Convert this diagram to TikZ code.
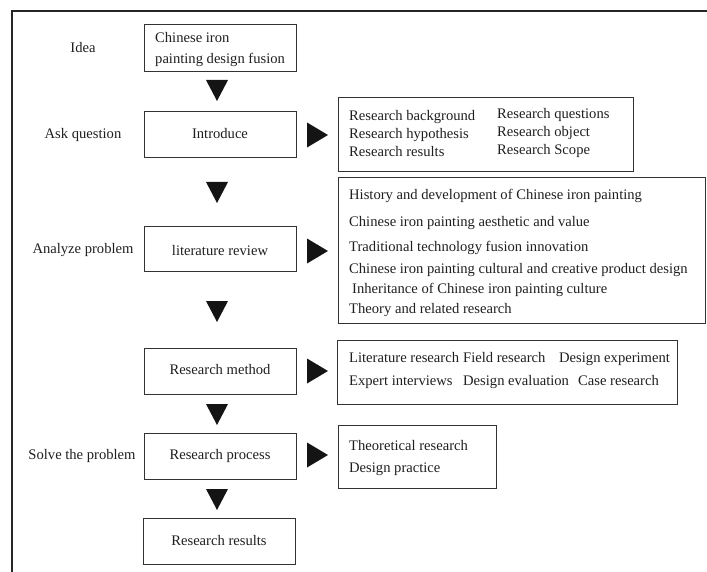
\documentclass[tikz,border=0pt]{standalone}
\usepackage{fontspec}
\setmainfont{Liberation Serif}
\newcommand\dtri[2]{\fill[black!92] (#1-11,#2) -- (#1+11,#2) -- (#1,#2+21) -- cycle;}
\newcommand\rtri[2]{\fill[black!92] (#1,#2-12.5) -- (#1,#2+12.5) -- (#1+21,#2) -- cycle;}
\begin{document}
\begin{tikzpicture}[x=1pt,y=-1pt,
  font=\fontsize{14.6}{18}\selectfont,
  box/.style={draw=black!80, line width=0.9pt},
  txt/.style={anchor=base west, inner sep=0pt, text=black!88},
  ctxt/.style={anchor=base, inner sep=0pt, text=black!88}]
\useasboundingbox (0,0) rectangle (707,572);
\draw[line width=1.3pt, black!85] (12,572) -- (12,11) -- (707,11);

% main column boxes
\draw[box] (144,24) rectangle (296,71);
\draw[box] (144,111) rectangle (296,157);
\draw[box] (144,226) rectangle (296,271);
\draw[box] (144,348) rectangle (296,394);
\draw[box] (144,433) rectangle (296,479);
\draw[box] (143,518) rectangle (295,564);

% list boxes
\draw[box] (338,97) rectangle (633,171);
\draw[box] (338,177) rectangle (705,323);
\draw[box] (337,340) rectangle (677,404);
\draw[box] (338,425) rectangle (496,488);

% left labels
\node[ctxt] (lidea) at (83,53) {Idea};
\node[ctxt] (lask) at (83,139) {Ask question};
\node[ctxt] (lana) at (83,254) {Analyze problem};
\node[ctxt] (lsolve) at (82,459) {Solve the problem};

% main box texts
\node[txt] (idea1) at (155,43) {Chinese iron};
\node[txt] (idea2) at (155,64) {painting design fusion};
\node[ctxt] (intro) at (220,139) {Introduce};
\node[ctxt] (lit) at (220,255) {literature review};
\node[ctxt] (meth) at (220,374) {Research method};
\node[ctxt] (proc) at (220,459) {Research process};
\node[ctxt] (res) at (219,545) {Research results};

% background list
\node[txt] (b1) at (349,121) {Research background};
\node[txt] (b2) at (349,139) {Research hypothesis};
\node[txt] (b3) at (349,157) {Research results};
\node[txt] (b4) at (497,119) {Research questions};
\node[txt] (b5) at (497,137) {Research object};
\node[txt] (b6) at (497,155) {Research Scope};

% literature list
\node[txt] (l1) at (349,200) {History and development of Chinese iron painting};
\node[txt] (l2) at (349,227) {Chinese iron painting aesthetic and value};
\node[txt] (l3) at (349,252) {Traditional technology fusion innovation};
\node[txt] (l4) at (349,273) {Chinese iron painting cultural and creative product design};
\node[txt] (l5) at (352,294) {Inheritance of Chinese iron painting culture};
\node[txt] (l6) at (349,313) {Theory and related research};

% method list
\node[txt] (m1) at (349,362) {Literature research};
\node[txt] (m2) at (463,362) {Field research};
\node[txt] (m3) at (559,362) {Design experiment};
\node[txt] (m4) at (349,385) {Expert interviews};
\node[txt] (m5) at (463,385) {Design evaluation};
\node[txt] (m6) at (578,385) {Case research};

% process list
\node[txt] (p1) at (349,450) {Theoretical research};
\node[txt] (p2) at (349,472) {Design practice};

% triangles
\dtri{217}{80}
\dtri{217}{182}
\dtri{217}{301}
\dtri{217}{404}
\dtri{217}{489}
\rtri{307}{135}
\rtri{307}{251}
\rtri{307}{371}
\rtri{307}{455}
\end{tikzpicture}
\end{document}
